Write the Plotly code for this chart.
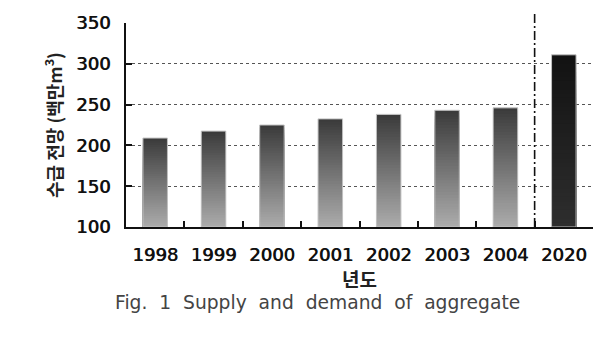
import plotly.graph_objects as go

years = ["1998", "1999", "2000", "2001", "2002", "2003", "2004", "2020"]
values = [209, 217.5, 225, 232.5, 238, 243, 246, 311]
y_min, y_max, y_step = 100, 350, 50
y_title = "수급 전망 (백만m<sup>3</sup>)"
x_title = "년도"
caption = "Fig.  1  Supply  and  demand  of  aggregate".replace("  ", " \u00a0")

# gradient colours (light at bottom, dark at top)
hist_light, hist_dark = (172, 172, 172), (58, 58, 58)
fut_light, fut_dark = (46, 46, 46), (18, 18, 18)


def lerp(a, b, f):
    return "rgb(%d,%d,%d)" % tuple(round(a[i] + (b[i] - a[i]) * f) for i in range(3))


N = 40
fig = go.Figure()
for k in range(N):
    frac_top = (N - k) / N
    f = (N - k - 0.5) / N
    heights = [(v - y_min) * frac_top for v in values]
    colors = [lerp(fut_light, fut_dark, f) if yr == "2020" else lerp(hist_light, hist_dark, f)
              for yr in years]
    fig.add_trace(go.Bar(x=years, y=heights, base=[y_min] * len(values),
                         marker=dict(color=colors, line=dict(width=0)),
                         width=0.42, hoverinfo="skip", showlegend=False))
# thin outline
fig.add_trace(go.Bar(x=years, y=[v - y_min for v in values], base=[y_min] * len(values),
                     marker=dict(color="rgba(0,0,0,0)", line=dict(color="#c4c4c4", width=1)),
                     width=0.42, hoverinfo="skip", showlegend=False))

fig.add_shape(type="line", xref="x", yref="paper", x0=6.5, x1=6.5, y0=0, y1=1.058,
              line=dict(color="#111", width=1.6, dash="9px,3px,2px,3px"), layer="above")

tick_font = dict(family="DejaVu Sans", size=18, color="#111", shadow="0.7px 0px 0px #111")

fig.update_layout(
    width=614, height=339,
    margin=dict(l=126, r=21, t=20, b=112),
    paper_bgcolor="white", plot_bgcolor="white",
    barmode="overlay",
    font=dict(family="DejaVu Sans", color="#222"),
    xaxis=dict(type="category", range=[-0.5, 7.5], tickson="boundaries",
               ticks="inside", ticklen=6, tickwidth=1.5, tickcolor="#111",
               showline=True, linewidth=2, linecolor="#111", showgrid=False,
               tickangle=0, tickfont=tick_font, ticklabelstandoff=10),
    yaxis=dict(range=[y_min, y_max], dtick=y_step, tick0=y_min,
               ticks="inside", ticklen=6, tickwidth=1.5, tickcolor="#111",
               showline=True, linewidth=2, linecolor="#111", zeroline=False,
               showgrid=True, gridcolor="#555", gridwidth=1, griddash="3px,3px",
               tickfont=tick_font, ticklabelstandoff=10),
    annotations=[
        dict(text=y_title, xref="paper", yref="paper", x=0, y=0.5, xshift=-73,
             xanchor="center", yanchor="middle", textangle=-90, showarrow=False,
             font=dict(family="Noto Sans CJK KR", size=18, color="#222", weight="bold")),
        dict(text=x_title, xref="paper", yref="paper", x=0.5, y=0, yshift=-51,
             xanchor="center", yanchor="middle", showarrow=False,
             font=dict(family="Noto Sans CJK KR", size=19, color="#222", weight="bold")),
        dict(text=caption, xref="paper", yref="paper", x=0.411, y=0, yshift=-75,
             xanchor="center", yanchor="middle", showarrow=False,
             font=dict(family="DejaVu Sans", size=18.7, color="#444")),
    ],
)

fig.write_html("out.html")
